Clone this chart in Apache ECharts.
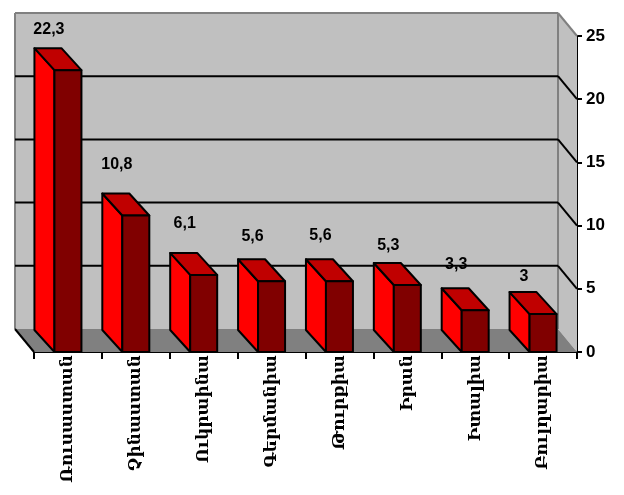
<!DOCTYPE html>
<html><head><meta charset="utf-8">
<style>html,body{margin:0;padding:0;background:#fff}#c{width:624px;height:495px}</style>
<script src="https://cdn.jsdelivr.net/npm/echarts@6/dist/echarts.min.js"></script>
</head><body><div id="c"></div>
<script>
const categories = ["Ռուսաստան","Չինաստան","Ուկրաինա","Գերմանիա","Թուրքիա","Իրան","Իտալիա","Բուլղարիա"];
const values = [22.3,10.8,6.1,5.6,5.6,5.3,3.3,3];
const valueLabels = ["22,3","10,8","6,1","5,6","5,6","5,3","3,3","3"];
const valueTicks = [0,5,10,15,20,25];

// look of the pseudo-3D scene (pixels)
const DX = -19, DY = -23;      // depth of the room
const BDX = -20, BDY = -22;    // depth of a bar
const BAR_W = 27;
const labelLift = [19,29,29,23,24,17,24,15];
const labelFont = 'bold 16px "Liberation Sans", Arial, sans-serif';

const chart = echarts.init(document.getElementById('c'), null, {renderer:'canvas'});

function poly(points, fill, stroke, lw){
  return {type:'polygon', shape:{points}, style:{fill, stroke:stroke||null, lineWidth:lw||0, lineJoin:'round'}};
}
function line(p, q, stroke, lw){
  return {type:'line', shape:{x1:p[0],y1:p[1],x2:q[0],y2:q[1]}, style:{stroke, lineWidth:lw}};
}

function renderRoom(params, api){
  const cs = params.coordSys;
  const L = cs.x, R = cs.x + cs.width;
  const B = api.coord([0,0])[1], T = api.coord([0,25])[1];
  const kids = [];
  kids.push(poly([[L+DX,T+DY],[R+DX,T+DY],[R+DX,B+DY],[L+DX,B+DY]],'#C0C0C0'));
  kids.push(poly([[R+DX,T+DY],[R,T],[R,B],[R+DX,B+DY]],'#C0C0C0'));
  kids.push(poly([[L+DX,B+DY],[R+DX,B+DY],[R,B],[L,B]],'#808080'));
  kids.push(line([L+DX,B+DY],[L+DX,T+DY],'#808080',2));
  kids.push(line([L+DX,T+DY],[R+DX,T+DY],'#808080',2));
  kids.push(line([R+DX,T+DY],[R+DX,B+DY],'#808080',2));
  kids.push(line([R+DX,T+DY],[R,T],'#808080',2));
  valueTicks.forEach(v=>{
    if(v===0||v===25) return;
    const y = api.coord([0,v])[1];
    kids.push(line([L+DX,y+DY],[R+DX,y+DY],'#000',2));
    kids.push(line([R+DX,y+DY],[R,y],'#000',2));
  });
  kids.push(line([L+DX,B+DY],[L,B],'#000',2));
  return {type:'group', children:kids};
}

function renderBar(params, api){
  const i = api.value(0), v = api.value(1);
  const c = api.coord([i,v]), b = api.coord([i,0]);
  const l = c[0]-BAR_W/2, r = c[0]+BAR_W/2, t = c[1], bo = b[1];
  const kids = [
    poly([[l+BDX,t+BDY],[l,t],[l,bo],[l+BDX,bo+BDY]],'#FF0000','#000',2),
    poly([[l+BDX,t+BDY],[r+BDX,t+BDY],[r,t],[l,t]],'#C00000','#000',2),
    poly([[l,t],[r,t],[r,bo],[l,bo]],'#800000','#000',2),
    {type:'text', style:{text:valueLabels[params.dataIndex], x:c[0]+BDX+1, y:t+BDY-labelLift[params.dataIndex],
      font:labelFont, fill:'#000', align:'center', verticalAlign:'middle'}}
  ];
  return {type:'group', children:kids};
}

chart.setOption({
  animation:false,
  backgroundColor:'#fff',
  grid:{left:34,right:47,top:36,height:316,containLabel:false},
  xAxis:{type:'category',data:categories,boundaryGap:true,
    axisLine:{show:true,lineStyle:{color:'#000',width:2}},
    axisTick:{show:true,alignWithLabel:false,length:7,lineStyle:{color:'#000',width:2}},
    axisLabel:{interval:0,rotate:90,margin:3,color:'#000',fontFamily:'"DejaVu Serif",serif',fontWeight:'bold',fontSize:17}},
  yAxis:{type:'value',position:'right',min:0,max:25,interval:5,
    axisLine:{show:true,lineStyle:{color:'#000',width:2}},
    axisTick:{show:true,length:5,lineStyle:{color:'#000',width:2}},
    splitLine:{show:false},
    axisLabel:{margin:9,color:'#000',fontFamily:'"Liberation Sans",Arial,sans-serif',fontWeight:'bold',fontSize:17,
      formatter:v=>String(v)}},
  series:[
    {type:'custom',z:1,silent:true,clip:false,renderItem:renderRoom,data:[[0,0]],encode:{x:0,y:1}},
    {type:'custom',z:3,silent:true,clip:false,renderItem:renderBar,
      data:values.map((v,i)=>[i,v]),encode:{x:0,y:1}}
  ]
});
</script></body></html>
